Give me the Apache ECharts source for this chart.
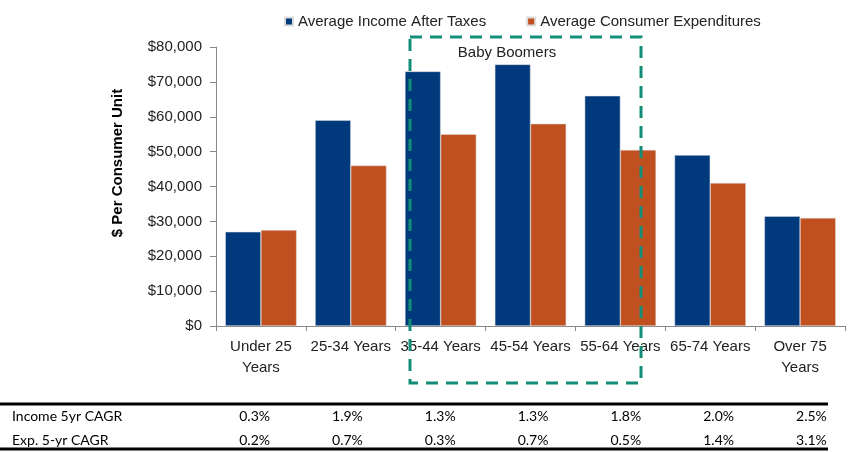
<!DOCTYPE html>
<html>
<head>
<meta charset="utf-8">
<script src="https://cdn.jsdelivr.net/npm/echarts@6/dist/echarts.min.js"></script>
<style>
html,body{margin:0;padding:0;background:#fff;}
#main{width:848px;height:452px;}
</style>
</head>
<body>
<div id="main"></div>
<script>
const categories = ['Under 25\nYears', '25-34 Years', '35-44 Years', '45-54 Years', '55-64 Years', '65-74 Years', 'Over 75\nYears'];
const incomeAfterTaxes = [27000, 59000, 73000, 75000, 66000, 49000, 31500];
const consumerExpenditures = [27500, 46000, 55000, 58000, 50500, 41000, 31000];
const seriesNames = ['Average Income After Taxes', 'Average Consumer Expenditures'];
const yTicks = [0, 10000, 20000, 30000, 40000, 50000, 60000, 70000, 80000];
const tableRowLabels = ['Income 5yr CAGR', 'Exp. 5-yr CAGR'];
const incomeCAGR = ['0.3%', '1.9%', '1.3%', '1.3%', '1.8%', '2.0%', '2.5%'];
const expCAGR = ['0.2%', '0.7%', '0.3%', '0.7%', '0.5%', '1.4%', '3.1%'];
const annotationLabel = 'Baby Boomers';
const yAxisTitle = '$ Per Consumer Unit';

const chart = echarts.init(document.getElementById('main'));
const FONT = 'Liberation Sans';
const TFONT = 'Lato';

const graphics = [];
graphics.push({
  type: 'text', x: 118, y: 163, rotation: Math.PI / 2,
  style: { text: yAxisTitle, fontFamily: FONT, fontSize: 15, fontWeight: 'bold', fill: '#000', textAlign: 'center', textVerticalAlign: 'middle' }
});
graphics.push({
  type: 'rect', shape: { x: 410, y: 37, width: 231, height: 346 },
  style: { fill: 'none', stroke: '#138d78', lineWidth: 3, lineDash: [12, 8] }, z: 100
});
graphics.push({
  type: 'text', x: 507, y: 53,
  style: { text: annotationLabel, fontFamily: FONT, fontSize: 15, fill: '#222', textAlign: 'center', textVerticalAlign: 'middle' }, z: 101
});
graphics.push({ type: 'line', shape: { x1: 0, y1: 404, x2: 828, y2: 404 }, style: { stroke: '#000', lineWidth: 3 } });
graphics.push({ type: 'line', shape: { x1: 0, y1: 449, x2: 828, y2: 449 }, style: { stroke: '#000', lineWidth: 3 } });
const rowY = [416, 440];
const rows = [incomeCAGR, expCAGR];
tableRowLabels.forEach((lab, r) => {
  graphics.push({ type: 'text', x: 12, y: rowY[r], style: { text: lab, fontFamily: TFONT, fontSize: 14, fill: '#000', textAlign: 'left', textVerticalAlign: 'middle' } });
  rows[r].forEach((v, i) => {
    graphics.push({ type: 'text', x: 270 + 92.8 * i, y: rowY[r], style: { text: v, fontFamily: TFONT, fontSize: 14, fill: '#000', textAlign: 'right', textVerticalAlign: 'middle' } });
  });
});

chart.setOption({
  animation: false,
  textStyle: { fontFamily: FONT },
  legend: {
    data: seriesNames,
    top: 9, left: 279,
    icon: 'rect', itemWidth: 8, itemHeight: 8, itemGap: 40,
    textStyle: { fontSize: 15, color: '#222', fontFamily: FONT }
  },
  grid: { left: 216, right: 3, top: 47, bottom: 126, containLabel: false },
  xAxis: {
    type: 'category', data: categories,
    axisLine: { lineStyle: { color: '#888', width: 1 } },
    axisTick: { show: true, length: 5, lineStyle: { color: '#888' } },
    axisLabel: { interval: 0, fontSize: 15, color: '#222', lineHeight: 21, margin: 10, fontFamily: FONT }
  },
  yAxis: {
    type: 'value', min: yTicks[0], max: yTicks[yTicks.length - 1], interval: yTicks[1] - yTicks[0],
    axisLine: { show: true, lineStyle: { color: '#888' } },
    axisTick: { show: true, length: 6, lineStyle: { color: '#888' } },
    splitLine: { show: false },
    axisLabel: {
      fontSize: 15, color: '#222', margin: 14, fontFamily: FONT,
      formatter: v => '$' + v.toLocaleString('en-US')
    }
  },
  series: [
    { name: seriesNames[0], type: 'bar', data: incomeAfterTaxes, barWidth: '39.7%', barGap: '0%',
      itemStyle: { color: '#003A7D', borderColor: '#dcdcdc', borderWidth: 0.5 } },
    { name: seriesNames[1], type: 'bar', data: consumerExpenditures, barWidth: '39.7%', barGap: '0%',
      itemStyle: { color: '#C0501F', borderColor: '#dcdcdc', borderWidth: 0.5 } }
  ],
  graphic: graphics
});
</script>
</body>
</html>
